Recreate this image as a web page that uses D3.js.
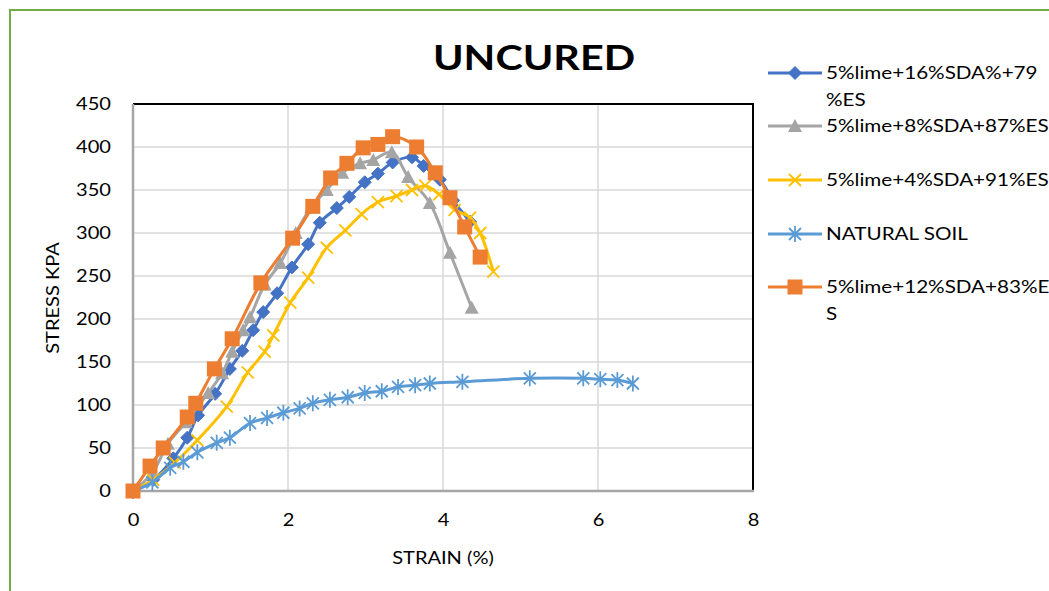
<!DOCTYPE html>
<html>
<head>
<meta charset="utf-8">
<script src="https://cdn.jsdelivr.net/npm/d3@7"></script>
<style>
  body { margin: 0; background: #fff; }
  svg { display: block; font-family: Lato, "Open Sans", sans-serif; }
</style>
</head>
<body>
<div id="chart"></div>
<script>
// data (strain %, stress kPa)
const lime16 = [[0,0],[0.26,13],[0.52,38],[0.70,62],[0.84,88],[1.06,113],[1.25,142],[1.41,163],[1.55,187],[1.68,208],[1.86,230],[2.05,260],[2.26,287],[2.41,312],[2.63,329],[2.79,342],[2.99,359],[3.16,369],[3.35,382],[3.60,388],[3.75,378],[3.96,362],[4.13,338],[4.35,313]];
const lime8 = [[0,0],[0.25,21],[0.45,55],[0.68,80],[0.97,114],[1.15,137],[1.28,162],[1.42,187],[1.51,202],[1.70,240],[1.90,265],[2.10,300],[2.30,330],[2.50,350],[2.70,370],[2.93,381],[3.10,385],[3.34,394],[3.55,365],[3.83,335],[4.09,277],[4.37,213]];
const lime4 = [[0,0],[0.26,13],[0.54,33],[0.83,59],[1.21,98],[1.48,138],[1.70,162],[1.81,181],[2.03,219],[2.26,248],[2.50,283],[2.74,303],[2.95,322],[3.16,336],[3.40,343],[3.60,350],[3.77,355],[3.95,345],[4.15,327],[4.35,318],[4.48,300],[4.65,255]];
const natural = [[0,0],[0.25,10],[0.48,27],[0.65,34],[0.83,45],[1.08,56],[1.25,62],[1.51,79],[1.73,85],[1.94,91],[2.15,96],[2.32,102],[2.54,106],[2.77,109],[2.99,114],[3.21,116],[3.42,121],[3.64,123],[3.83,125],[4.25,127],[5.12,131],[5.81,131],[6.03,130],[6.25,129],[6.45,125]];
const lime12 = [[0,0],[0.22,29],[0.39,50],[0.70,86],[0.81,102],[1.05,142],[1.28,177],[1.65,242],[2.06,294],[2.32,331],[2.55,364],[2.76,381],[2.97,399],[3.16,403],[3.35,412],[3.66,400],[3.90,370],[4.09,341],[4.28,307],[4.48,272]];

const seriesNames = ['5%lime+16%SDA%+79 %ES','5%lime+8%SDA+87%ES','5%lime+4%SDA+91%ES','NATURAL SOIL','5%lime+12%SDA+83%ES'];
const seriesData = [lime16, lime8, lime4, natural, lime12];
const seriesColors = ['#4472C4','#A5A5A5','#FFC000','#5B9BD5','#ED7D31'];
const seriesMarkers = ['diamond','triangle','x','star','square'];
const xTicks = [0,2,4,6,8];
const yTicks = [0,50,100,150,200,250,300,350,400,450];

const W = 1049, H = 591;
const stretch = 1.18; // reference text is a bit wide
const svg = d3.select('#chart').append('svg').attr('width', W).attr('height', H);

// outer green frame
svg.append('rect').attr('x', 10).attr('y', 10).attr('width', W + 20).attr('height', H + 20)
  .attr('fill', 'none').attr('stroke', '#70AD47').attr('stroke-width', 2);

const x = d3.scaleLinear().domain([0, 8]).range([133, 753]);
const y = d3.scaleLinear().domain([0, 450]).range([491, 104]);

// gridlines
svg.append('g').selectAll('line').data(yTicks.slice(1)).enter().append('line')
  .attr('x1', x(0)).attr('x2', x(8)).attr('y1', d => y(d)).attr('y2', d => y(d))
  .attr('stroke', '#d9d9d9').attr('stroke-width', 1.5);
svg.append('g').selectAll('line').data(xTicks.slice(1, -1)).enter().append('line')
  .attr('y1', y(0)).attr('y2', y(450)).attr('x1', d => x(d)).attr('x2', d => x(d))
  .attr('stroke', '#d9d9d9').attr('stroke-width', 1.5);

// plot border: black top/right, gray axes
svg.append('path').attr('d', `M${x(0)},${y(450)}H${x(8)}V${y(0)}`)
  .attr('fill', 'none').attr('stroke', '#000').attr('stroke-width', 2);
svg.append('line').attr('x1', x(0)).attr('x2', x(0)).attr('y1', y(450)).attr('y2', y(0))
  .attr('stroke', '#a6a6a6').attr('stroke-width', 2.5);
svg.append('line').attr('x1', x(0)).attr('x2', x(8) + 1).attr('y1', y(0)).attr('y2', y(0))
  .attr('stroke', '#a6a6a6').attr('stroke-width', 2.5);

// axes tick labels
const yAxis = d3.axisLeft(y).tickValues(yTicks).tickSize(0).tickPadding(0);
svg.append('g').attr('transform', 'translate(111,0)').call(yAxis)
  .call(g => g.select('.domain').remove())
  .selectAll('text').attr('font-size', 17).attr('font-family', 'Lato').attr('fill', '#000')
  .attr('dy', '0.35em').attr('transform', `scale(${stretch},1)`);
const xAxis = d3.axisBottom(x).tickValues(xTicks).tickSize(0).tickPadding(0);
svg.append('g').attr('transform', 'translate(0,514)').call(xAxis)
  .call(g => g.select('.domain').remove())
  .selectAll('text').attr('font-size', 17).attr('font-family', 'Lato').attr('fill', '#000')
  .attr('dy', '0.71em').attr('transform', `scale(${stretch},1)`);

// titles
function label(tx, ty, rot, size, s) {
  return svg.append('text')
    .attr('transform', `translate(${tx},${ty}) rotate(${rot}) scale(${stretch},1)`)
    .attr('text-anchor', 'middle').attr('font-size', size).text(s);
}
label(534, 70, 0, 35, 'UNCURED').attr('font-weight', 'bold');
label(443, 564, 0, 17, 'STRAIN (%)');
label(59, 298, -90, 17, 'STRESS KPA');

// marker drawing
function drawMarker(g, type, color) {
  if (type === 'diamond') {
    g.append('path').attr('d', 'M0,-6.5L6.5,0L0,6.5L-6.5,0Z').attr('fill', color).attr('stroke', color);
  } else if (type === 'triangle') {
    g.append('path').attr('d', 'M0,-7L7,6L-7,6Z').attr('fill', color);
  } else if (type === 'square') {
    g.append('rect').attr('x', -7.5).attr('y', -7.5).attr('width', 15).attr('height', 15).attr('fill', color);
  } else if (type === 'x') {
    g.append('path').attr('d', 'M-6,-6L6,6M-6,6L6,-6').attr('stroke', color).attr('stroke-width', 1.8);
  } else if (type === 'star') {
    g.append('path').attr('d', 'M-6,-6L6,6M-6,6L6,-6M0,-8L0,8').attr('stroke', color).attr('stroke-width', 1.8);
  }
}

const line = d3.line().x(d => x(d[0])).y(d => y(d[1])).curve(d3.curveCatmullRom.alpha(0.5));

seriesData.forEach(function(data, i) {
  const g = svg.append('g');
  g.append('path').datum(data).attr('d', line)
    .attr('fill', 'none').attr('stroke', seriesColors[i]).attr('stroke-width', 3).attr('stroke-linejoin', 'round');
  g.selectAll('g.m').data(data).enter().append('g').attr('class', 'm')
    .attr('transform', d => `translate(${x(d[0])},${y(d[1])})`)
    .each(function() { drawMarker(d3.select(this), seriesMarkers[i], seriesColors[i]); });
});

// legend
const legendY = [73, 126, 180, 234, 287];
const legendLines = [['5%lime+16%SDA%+79', '%ES'], ['5%lime+8%SDA+87%ES'], ['5%lime+4%SDA+91%ES'], ['NATURAL SOIL'], ['5%lime+12%SDA+83%E', 'S']];
seriesNames.forEach(function(name, i) {
  const g = svg.append('g').attr('transform', `translate(0,${legendY[i]})`);
  g.append('line').attr('x1', 768).attr('x2', 822).attr('y1', 0).attr('y2', 0)
    .attr('stroke', seriesColors[i]).attr('stroke-width', 3);
  drawMarker(g.append('g').attr('transform', 'translate(795,0)'), seriesMarkers[i], seriesColors[i]);
  const t = g.append('text').attr('transform', `translate(826,6) scale(${stretch},1)`).attr('font-size', 17.5);
  legendLines[i].forEach((s, k) => t.append('tspan').attr('x', 0).attr('dy', k ? 27 : 0).text(s));
});
</script>
</body>
</html>
